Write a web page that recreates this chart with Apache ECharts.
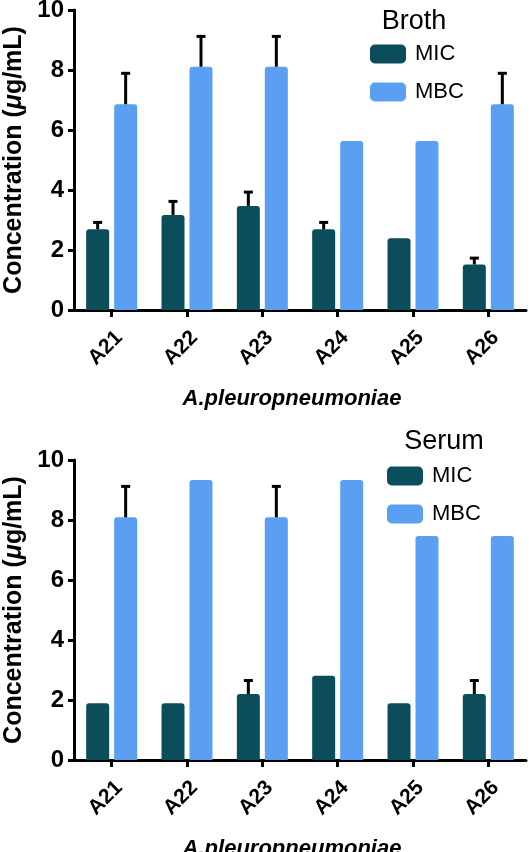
<!DOCTYPE html>
<html>
<head>
<meta charset="utf-8">
<script src="https://cdn.jsdelivr.net/npm/echarts@6/dist/echarts.min.js"></script>
<style>
html,body{margin:0;padding:0;background:#fff;}
#c{width:529px;height:852px;}
</style>
</head>
<body>
<div id="c"></div>
<script>
// ---- data ----
const categories = ['A21', 'A22', 'A23', 'A24', 'A25', 'A26'];
const brothMIC   = [2.69, 3.17, 3.47, 2.69, 2.39, 1.52];
const brothMICsd = [0.23, 0.45, 0.46, 0.23, 0, 0.21];
const brothMBC   = [6.86, 8.11, 8.11, 5.63, 5.63, 6.86];
const brothMBCsd = [1.03, 1.01, 1.01, 0, 0, 1.03];
const serumMIC   = [1.89, 1.89, 2.20, 2.81, 1.89, 2.20];
const serumMICsd = [0, 0, 0.45, 0, 0, 0.45];
const serumMBC   = [8.09, 9.33, 8.09, 9.33, 7.47, 7.47];
const serumMBCsd = [1.03, 0, 1.03, 0, 0, 0];
const yTicks = [0, 2, 4, 6, 8, 10];
const seriesNames = ['MIC', 'MBC'];
const panelTitles = ['Broth', 'Serum'];
const xName = 'A.pleuropneumoniae';

// ---- style ----
const FONT = '"Liberation Sans", Arial, sans-serif';
const COL_MIC = '#0b4d5b';
const COL_MBC = '#5a9ff1';
const BAR_W = 23;
const BAR_GAP = 5;
const OFF = (BAR_W + BAR_GAP) / 2;

const chart = echarts.init(document.getElementById('c'), null, {renderer: 'canvas'});

function yAxis(gi) {
  return {
    type: 'value', gridIndex: gi, min: yTicks[0], max: yTicks[yTicks.length - 1], interval: 2,
    axisLine: {show: true, lineStyle: {color: '#000', width: 3}},
    axisTick: {show: true, length: 6, lineStyle: {color: '#000', width: 3}},
    axisLabel: {color: '#000', fontFamily: FONT, fontWeight: 'bold', fontSize: 24, margin: 10},
    splitLine: {show: false},
    name: 'Concentration ({i|μ}g/mL)',
    nameLocation: 'middle', nameGap: 47, nameRotate: 90,
    nameTextStyle: {color: '#000', fontFamily: FONT, fontWeight: 'bold', fontSize: 25,
      rich: {i: {fontStyle: 'italic', fontWeight: 'bold', fontFamily: FONT, fontSize: 25, color: '#000'}}}
  };
}
function xAxis(gi) {
  return {
    type: 'category', gridIndex: gi, data: categories,
    axisLine: {show: true, lineStyle: {color: '#000', width: 3}},
    axisTick: {show: true, alignWithLabel: true, length: 7, lineStyle: {color: '#000', width: 3}},
    axisLabel: {color: '#000', fontFamily: FONT, fontWeight: 'bold', fontSize: 21, rotate: 45, margin: 17,
      verticalAlign: 'top', interval: 0},
    name: xName, nameLocation: 'middle', nameGap: 78,
    nameTextStyle: {color: '#000', fontFamily: FONT, fontWeight: 'bold', fontStyle: 'italic', fontSize: 22,
      verticalAlign: 'top', padding: [0, 16, 0, 0]}
  };
}
function bar(name, gi, data, color) {
  return {
    type: 'bar', name: name, xAxisIndex: gi, yAxisIndex: gi, data: data,
    barWidth: BAR_W, barGap: (BAR_GAP / BAR_W * 100).toFixed(1) + '%',
    itemStyle: {color: color, borderRadius: [3, 3, 0, 0]}, z: 2
  };
}
function err(gi, vals, sds, sign) {
  return {
    type: 'custom', xAxisIndex: gi, yAxisIndex: gi, z: 3, silent: true,
    data: vals.map((v, i) => [i, v, sds[i]]),
    renderItem: function (params, api) {
      const sd = api.value(2);
      if (!(sd > 0)) return null;
      const i = api.value(0), v = api.value(1);
      const p0 = api.coord([i, v]);
      const p1 = api.coord([i, v + sd]);
      const x = p0[0] + sign * OFF;
      const st = {stroke: '#000', lineWidth: 3};
      return {type: 'group', children: [
        {type: 'line', shape: {x1: x, y1: p0[1], x2: x, y2: p1[1]}, style: st},
        {type: 'line', shape: {x1: x - 4.5, y1: p1[1], x2: x + 4.5, y2: p1[1]}, style: st}
      ]};
    }
  };
}
function legend(left, top) {
  return {
    orient: 'vertical', left: left, top: top, padding: 0,
    itemWidth: 36, itemHeight: 19, itemGap: 16, icon: 'roundRect',
    data: seriesNames,
    textStyle: {color: '#000', fontFamily: FONT, fontSize: 22, padding: [0, 0, 0, 4]}
  };
}

chart.setOption({
  animation: false,
  backgroundColor: '#fff',
  grid: [
    {left: 74, top: 10, width: 452, height: 300, outerBoundsMode: 'none', containLabel: false},
    {left: 74, top: 460, width: 452, height: 300, outerBoundsMode: 'none', containLabel: false}
  ],
  xAxis: [xAxis(0), xAxis(1)],
  yAxis: [yAxis(0), yAxis(1)],
  legend: [legend(370, 43), legend(387, 465)],
  graphic: [
    {type: 'text', x: 414, y: 22, style: {text: panelTitles[0], fill: '#000', font: '27px ' + FONT, textAlign: 'center', textVerticalAlign: 'middle'}},
    {type: 'text', x: 444, y: 442, style: {text: panelTitles[1], fill: '#000', font: '27px ' + FONT, textAlign: 'center', textVerticalAlign: 'middle'}}
  ],
  series: [
    bar(seriesNames[0], 0, brothMIC, COL_MIC),
    bar(seriesNames[1], 0, brothMBC, COL_MBC),
    bar(seriesNames[0], 1, serumMIC, COL_MIC),
    bar(seriesNames[1], 1, serumMBC, COL_MBC),
    err(0, brothMIC, brothMICsd, -1),
    err(0, brothMBC, brothMBCsd, 1),
    err(1, serumMIC, serumMICsd, -1),
    err(1, serumMBC, serumMBCsd, 1)
  ]
});
</script>
</body>
</html>
